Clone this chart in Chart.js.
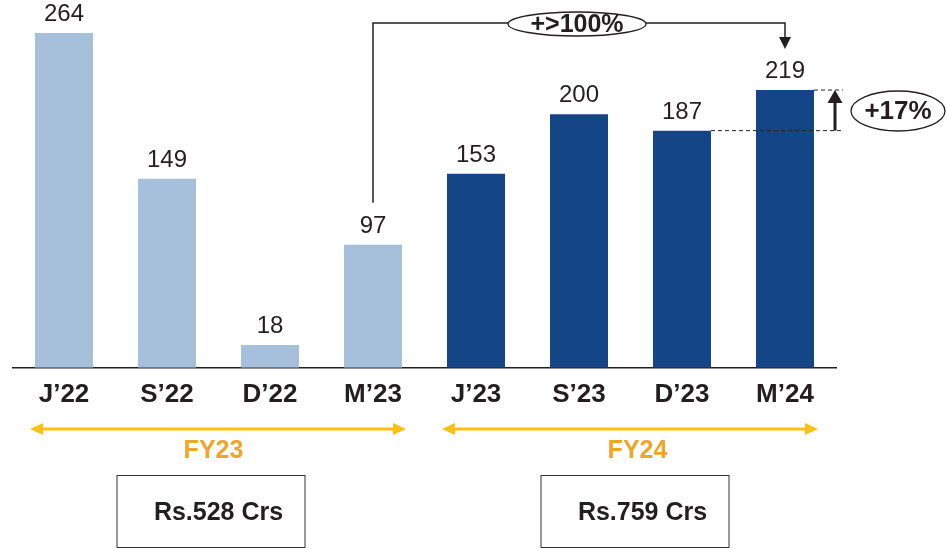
<!DOCTYPE html>
<html>
<head>
<meta charset="utf-8">
<script src="https://cdn.jsdelivr.net/npm/chart.js@4.4.1/dist/chart.umd.min.js"></script>
<style>
  html, body { margin: 0; padding: 0; background: #fff; }
  #wrap { width: 947px; height: 550px; }
</style>
</head>
<body>
<div id="wrap"><canvas id="chart" width="947" height="550"></canvas></div>
<script>
// quarter-end values, Rs. crore
const quarters = ['J\u201922', 'S\u201922', 'D\u201922', 'M\u201923', 'J\u201923', 'S\u201923', 'D\u201923', 'M\u201924'];
const values = [264, 149, 18, 97, 153, 200, 187, 219];
const fyNames = ['FY23', 'FY24'];
const fyTotals = ['Rs.528 Crs', 'Rs.759 Crs'];
const growthLabels = ['+>100%', '+17%'];

const FONT = "'Liberation Sans', Arial, sans-serif";
const INK = '#231F20';
const GOLD = '#FCBF14';
const GOLD_TEXT = '#EFA52A';

const barColors = values.map((v, i) => (i < 4 ? '#A6C0DB' : '#144687'));

function headAt(ctx, x, y, dx, dy, len, wid) {
  // filled triangle with its tip at (x, y), pointing along (dx, dy)
  ctx.beginPath();
  ctx.moveTo(x, y);
  ctx.lineTo(x - dx * len - dy * wid / 2, y - dy * len - dx * wid / 2);
  ctx.lineTo(x - dx * len + dy * wid / 2, y - dy * len + dx * wid / 2);
  ctx.closePath();
  ctx.fill();
}

function ellipseLabel(ctx, cx, cy, rx, ry, text, size) {
  ctx.beginPath();
  ctx.ellipse(cx, cy, rx, ry, 0, 0, Math.PI * 2);
  ctx.fillStyle = '#fff';
  ctx.fill();
  ctx.lineWidth = 1.3;
  ctx.strokeStyle = INK;
  ctx.stroke();
  ctx.fillStyle = INK;
  ctx.font = `bold ${size}px ${FONT}`;
  ctx.textAlign = 'center';
  ctx.textBaseline = 'middle';
  ctx.fillText(text, cx, cy + 1);
}

const overlay = {
  id: 'overlay',
  afterDraw(chart) {
    const ctx = chart.ctx;
    const x = chart.scales.x;
    const y = chart.scales.y;
    const bars = chart.getDatasetMeta(0).data;
    ctx.save();

    // value labels above bars
    ctx.fillStyle = INK;
    ctx.font = `24px ${FONT}`;
    ctx.textAlign = 'center';
    ctx.textBaseline = 'middle';
    bars.forEach((b, i) => ctx.fillText(String(values[i]), b.x, b.y - 18.5));

    // connector M'23 -> M'24
    const xa = x.getPixelForValue(3);
    const xb = x.getPixelForValue(7);
    const topY = 23;
    ctx.strokeStyle = INK;
    ctx.fillStyle = INK;
    ctx.lineWidth = 1.5;
    ctx.beginPath();
    ctx.moveTo(xa, y.getPixelForValue(values[3]) - 42);
    ctx.lineTo(xa, topY);
    ctx.lineTo(xb, topY);
    ctx.lineTo(xb, 40);
    ctx.stroke();
    headAt(ctx, xb, 49, 0, 1, 12, 12);
    ellipseLabel(ctx, 577, 24, 69, 12, growthLabels[0], 25);

    // dashed guides for D'23 -> M'24
    const yTop = y.getPixelForValue(values[7]);
    const yLow = y.getPixelForValue(values[6]);
    const rightEdge = bars[7].x + bars[7].width / 2;
    ctx.setLineDash([4, 3]);
    ctx.lineWidth = 1;
    ctx.beginPath();
    ctx.moveTo(rightEdge, yTop);
    ctx.lineTo(843, yTop);
    ctx.moveTo(bars[6].x + bars[6].width / 2, yLow);
    ctx.lineTo(843, yLow);
    ctx.stroke();
    ctx.setLineDash([]);
    ctx.lineWidth = 3;
    ctx.beginPath();
    ctx.moveTo(835, yLow);
    ctx.lineTo(835, yTop + 10);
    ctx.stroke();
    headAt(ctx, 835, yTop, 0, -1, 13, 15);
    ellipseLabel(ctx, 898, 111, 47, 20, growthLabels[1], 26);

    // fiscal year spans
    const spans = [[0, 3, -5], [4, 7, 7]];
    spans.forEach(([a, b, shift], k) => {
      const l = x.getPixelForValue(a) - 34;
      const r = x.getPixelForValue(b) + 33;
      const ay = 429;
      ctx.strokeStyle = GOLD;
      ctx.fillStyle = GOLD;
      ctx.lineWidth = 3;
      ctx.beginPath();
      ctx.moveTo(l + 8, ay);
      ctx.lineTo(r - 8, ay);
      ctx.stroke();
      headAt(ctx, l, ay, -1, 0, 13, 12);
      headAt(ctx, r, ay, 1, 0, 13, 12);

      const mid = (x.getPixelForValue(a) + x.getPixelForValue(b)) / 2 + shift;
      ctx.fillStyle = GOLD_TEXT;
      ctx.font = `bold 25px ${FONT}`;
      ctx.textAlign = 'center';
      ctx.textBaseline = 'middle';
      ctx.fillText(fyNames[k], mid, 451);

      // totals box
      const bx = mid - 97;
      ctx.strokeStyle = '#333';
      ctx.lineWidth = 1;
      ctx.strokeRect(bx + 0.5, 475.5, 188, 72);
      ctx.fillStyle = INK;
      ctx.font = `bold 25px ${FONT}`;
      ctx.fillText(fyTotals[k], mid + 5, 513);
    });

    ctx.restore();
  }
};

new Chart(document.getElementById('chart'), {
  type: 'bar',
  data: {
    labels: quarters,
    datasets: [{
      data: values,
      backgroundColor: barColors,
      borderWidth: 0,
      categoryPercentage: 1,
      barPercentage: 0.563,
    }],
  },
  options: {
    responsive: false,
    animation: false,
    devicePixelRatio: 1,
    layout: { padding: { left: 12.5, right: 110.5, top: 0, bottom: 129 } },
    plugins: {
      legend: { display: false },
      tooltip: { enabled: false },
    },
    scales: {
      x: {
        grid: { display: false, drawTicks: false },
        border: { display: true, color: INK, width: 1.5 },
        ticks: {
          padding: 11,
          color: INK,
          autoSkip: false,
          maxRotation: 0,
          font: { family: FONT, size: 26, weight: 'bold' },
        },
      },
      y: { display: false, min: 0, max: 290 },
    },
  },
  plugins: [overlay],
});
</script>
</body>
</html>
